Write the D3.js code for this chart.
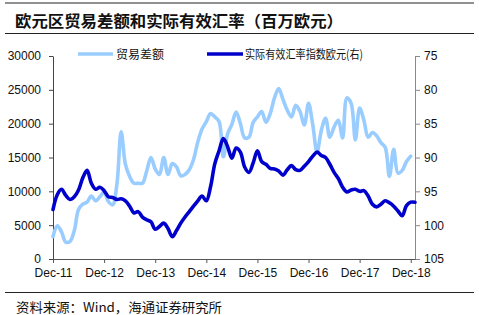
<!DOCTYPE html>
<html><head><meta charset="utf-8">
<script src="https://cdn.jsdelivr.net/npm/d3@7"></script>
<style>
html,body{margin:0;padding:0;background:#fff;}
svg{display:block;}
text{font-family:"Liberation Sans",Arial,sans-serif;}
.cjk{font-family:"Noto Sans CJK SC",sans-serif;}
</style></head>
<body>
<svg id="c" width="479" height="315"></svg>
<script>
// ---- data ----
const tickLabels = ["Dec-11","Dec-12","Dec-13","Dec-14","Dec-15","Dec-16","Dec-17","Dec-18"];
const leftTicks = [0,5000,10000,15000,20000,25000,30000];
const rightTicks = [75,80,85,90,95,100,105];
const seriesNames = ["贸易差额","实际有效汇率指数欧元(右)"];
// monthly, Dec-2011 onward
const tradeBalance = [
3300,4900,4000,2500,2600,4200,7300,8100,8400,9300,
8600,9200,9900,8500,8000,11000,18800,14000,12200,11200,
11200,11200,13000,15000,13300,12500,15000,12500,14100,13600,
12300,12500,13200,14700,17300,19200,20300,21500,21000,20300,
15100,18500,19900,21700,20000,17900,18000,20200,21000,21800,
20200,21500,23800,25200,23600,22000,21000,22700,21800,19800,
23000,19800,15800,19000,20800,18000,19500,20500,17900,23800,
23000,17600,22300,20500,18000,18700,18200,17200,16500,12200,
16200,12700,13100,14400,15200];
const reerIndex = [
97.7,95.5,94.7,95.6,96.2,95.8,94.8,93.0,91.9,93.8,
94.7,94.4,94.9,95.8,95.9,96.2,96.1,96.4,97.2,98.2,
98.0,98.8,99.2,99.5,100.6,100.2,99.7,100.5,101.7,100.8,
99.7,98.8,98.0,97.2,96.4,95.7,96.4,94.3,90.9,89.0,
87.2,88.4,90.1,88.6,89.2,91.4,92.2,90.8,89.0,90.6,
91.0,91.6,91.7,92.0,92.6,91.8,91.2,91.8,91.9,91.3,
90.6,89.8,89.2,89.7,90.0,91.0,92.2,93.1,94.4,95.1,
94.8,94.7,95.0,94.9,95.7,96.9,97.3,96.9,96.4,96.7,
97.2,97.9,98.6,97.1,96.6,96.6];

const colors = {light:"#99CCFF", dark:"#0000CC"};

const svg = d3.select("#c");
svg.append("rect").attr("width",479).attr("height",315).attr("fill","#fff");

// header / footer rules
svg.append("line").attr("x1",5).attr("x2",474).attr("y1",3).attr("y2",3).attr("stroke","#222").attr("stroke-width",1);
svg.append("line").attr("x1",5).attr("x2",474).attr("y1",33.5).attr("y2",33.5).attr("stroke","#222").attr("stroke-width",1);
svg.append("line").attr("x1",5).attr("x2",474).attr("y1",292.5).attr("y2",292.5).attr("stroke","#222").attr("stroke-width",1);

svg.append("text").attr("class","cjk").attr("x",15).attr("y",27)
  .attr("font-size",16).attr("font-weight","bold").attr("fill","#111")
  .attr("textLength",328).attr("lengthAdjust","spacingAndGlyphs")
  .text("欧元区贸易差额和实际有效汇率（百万欧元）");
svg.append("text").attr("class","cjk").attr("x",16).attr("y",312)
  .attr("font-size",13).attr("fill","#111")
  .attr("textLength",206).attr("lengthAdjust","spacingAndGlyphs")
  .text("资料来源：Wind，海通证券研究所");

// scales
const x = d3.scaleLinear().domain([0,85]).range([53,415]);
const yL = d3.scaleLinear().domain([0,30000]).range([259,56]);
const yR = d3.scaleLinear().domain([75,105]).range([56,259]);

// axes
const gL = svg.append("g").attr("transform","translate(53,0)")
  .call(d3.axisLeft(yL).tickValues(leftTicks).tickFormat(d3.format("d")).tickSize(4).tickSizeOuter(0).tickPadding(8));
const gR = svg.append("g").attr("transform","translate(415,0)")
  .call(d3.axisRight(yR).tickValues(rightTicks).tickSize(5).tickSizeOuter(0).tickPadding(4));
const gB = svg.append("g").attr("transform","translate(0,259)")
  .call(d3.axisBottom(x).tickValues(tickLabels.map((d,i)=>i*12)).tickFormat((d,i)=>tickLabels[i]).tickSize(4).tickSizeOuter(0).tickPadding(5));
[[gL,"#444"],[gR,"#8a8a8a"],[gB,"#555"]].forEach(([g,c])=>{
  g.selectAll("path,line").attr("stroke",c).attr("stroke-width",1);
  g.selectAll("text").attr("font-size",12).attr("fill","#111").attr("font-family","Liberation Sans, Arial, sans-serif");
});

// lines
const lineL = d3.line().x((d,i)=>x(i)).y(d=>yL(d)).curve(d3.curveCatmullRom.alpha(0.5));
const lineR = d3.line().x((d,i)=>x(i)).y(d=>yR(d)).curve(d3.curveCatmullRom.alpha(0.5));
svg.append("path").datum(tradeBalance).attr("d",lineL).attr("fill","none")
  .attr("stroke",colors.light).attr("stroke-width",3.6).attr("stroke-linejoin","round").attr("stroke-linecap","round");
svg.append("path").datum(reerIndex).attr("d",lineR).attr("fill","none")
  .attr("stroke",colors.dark).attr("stroke-width",3.6).attr("stroke-linejoin","round").attr("stroke-linecap","round");

// legend
const leg = [
  {name:seriesNames[0], c:colors.light, x1:78, x2:113, tx:116, tl:48},
  {name:seriesNames[1], c:colors.dark, x1:207, x2:243, tx:245, tl:118}
];
leg.forEach(l=>{
  svg.append("line").attr("x1",l.x1).attr("x2",l.x2).attr("y1",54).attr("y2",54)
    .attr("stroke",l.c).attr("stroke-width",3.6);
  svg.append("text").attr("class","cjk").attr("x",l.tx).attr("y",58.5)
    .attr("font-size",12).attr("fill","#111")
    .attr("textLength",l.tl).attr("lengthAdjust","spacingAndGlyphs").text(l.name);
});
</script>
</body></html>
